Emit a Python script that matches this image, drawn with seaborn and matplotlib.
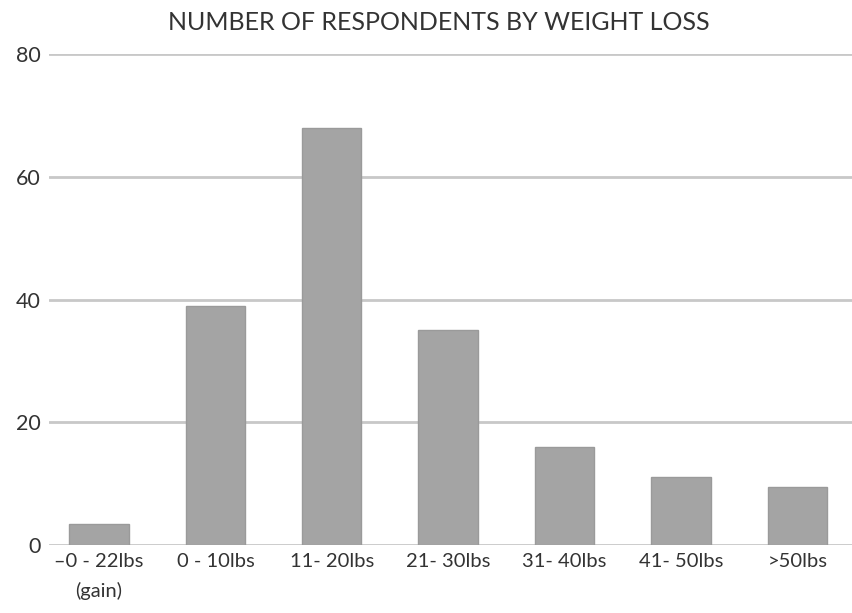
import matplotlib
matplotlib.use('Agg')
import matplotlib.pyplot as plt
import seaborn as sns
import pandas as pd

# --- Data ---
categories = ['–0 - 22lbs\n(gain)', '0 - 10lbs', '11- 20lbs', '21- 30lbs',
              '31- 40lbs', '41- 50lbs', '>50lbs']
respondents = [3.5, 39, 68, 35, 16, 11, 9.5]
y_ticks = [0, 20, 40, 60, 80]

df = pd.DataFrame({'range': categories, 'count': respondents})

sns.set_style('white')
plt.rcParams['font.family'] = ['Lato', 'DejaVu Sans']
text_color = '#333333'

fig = plt.figure(figsize=(8.52, 6.13), dpi=100)
ax = fig.add_axes([49 / 852, 1 - 545 / 613, 1 - 49 / 852, (545 - 54) / 613])

# gridlines under the bars
for t in y_ticks:
    ax.axhline(t, color='#c8c8c8', linewidth=2, zorder=0)

sns.barplot(data=df, x='range', y='count', color='#a4a4a4', width=0.51,
            saturation=1, edgecolor='#9a9a9a', linewidth=1, ax=ax, zorder=2)

ax.set_ylim(0, 80)
ax.set_xlim(-0.43, 6.47)
ax.set_yticks(y_ticks)
ax.set_yticklabels([str(t) for t in y_ticks])
ax.set_xlabel('')
ax.set_ylabel('')
ax.tick_params(axis='both', length=0, colors=text_color)
ax.tick_params(axis='y', pad=6, labelsize=15.5)
ax.tick_params(axis='x', pad=6, labelsize=14.5)
for lbl in ax.get_xticklabels():
    lbl.set_linespacing(1.75)
for spine in ax.spines.values():
    spine.set_visible(False)

fig.text(0.515, 1 - 22 / 613, 'NUMBER OF RESPONDENTS BY WEIGHT LOSS',
         ha='center', va='center', fontsize=18, color=text_color)

fig.savefig('out.png', dpi=100)
